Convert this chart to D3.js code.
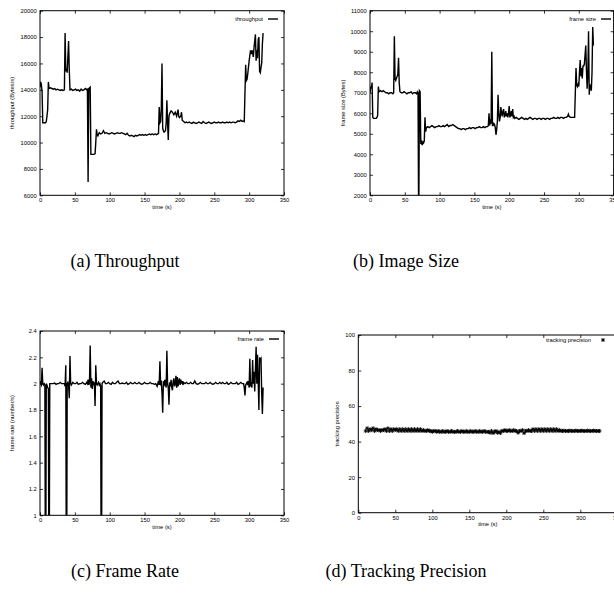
<!DOCTYPE html>
<html>
<head>
<meta charset="utf-8">
<script src="https://cdn.jsdelivr.net/npm/d3@7"></script>
<style>
  body { margin: 0; background: #fff; }
  svg text { font-family: "Liberation Sans", Arial, sans-serif; }
  .cap { font-family: "Liberation Serif", "Times New Roman", serif; font-size: 18px; }
</style>
</head>
<body>
<script>
// (a) throughput, [time (s), bytes/s]
const throughput = [
  [0,14200],[1,14600],[2,14400],[3,13800],[4,11500],[6,11500],[8,11500],[9,11600],[10,12000],[11,12500],
  [12,14600],[13,14100],[15,14150],[17,14100],[19,14050],[21,14100],[23,14000],[25,14050],[27,14000],[29,13950],
  [31,14000],[33,13950],[35,14000],[36,18300],[37,15400],[38,15600],[39,15300],[41,17700],[42,15500],[43,14000],
  [45,14050],[47,13950],[49,14000],[51,14050],[53,13950],[55,14000],[57,13900],[59,14050],[61,13950],[63,14000],
  [65,14100],[67,14000],[68,14100],[69,7000],[70,14100],[72,14200],[73,9100],[75,9100],[77,9100],[79,9150],
  [80,10000],[81,11000],[82,10600],[83,10500],[85,10750],[87,10650],[89,10700],[91,10900],[93,10700],[95,10750],
  [97,10700],[99,10650],[101,10700],[103,10750],[105,10700],[107,10650],[109,10700],[111,10750],[113,10700],[115,10700],
  [117,10750],[119,10700],[121,10650],[123,10600],[125,10700],[127,10550],[129,10500],[131,10550],[133,10500],[135,10450],
  [137,10550],[139,10500],[141,10550],[143,10600],[145,10550],[147,10600],[149,10550],[151,10600],[153,10550],[155,10600],
  [157,10650],[159,10600],[161,10650],[163,10600],[165,10650],[167,10600],[169,10650],[170,10700],[171,12700],[172,11500],
  [173,11600],[174,12600],[175,16000],[176,11100],[177,10900],[178,10800],[180,10900],[181,11500],[182,13200],[183,11500],
  [184,10200],[185,12000],[186,12200],[188,12400],[190,12300],[192,12100],[194,12300],[196,12000],[198,12500],[199,12000],
  [200,11900],[202,12000],[203,12300],[204,11700],[206,11600],[208,11500],[210,11550],[212,11500],[214,11550],[216,11500],
  [218,11450],[220,11550],[222,11500],[224,11450],[226,11500],[228,11550],[230,11500],[232,11450],[234,11600],[236,11500],
  [238,11450],[240,11500],[242,11550],[244,11500],[246,11450],[248,11500],[250,11550],[252,11500],[254,11500],[256,11550],
  [258,11500],[260,11500],[262,11550],[264,11500],[266,11500],[268,11550],[270,11500],[272,11550],[274,11500],[276,11550],
  [278,11550],[280,11500],[282,11550],[284,11650],[286,11600],[288,11700],[290,11600],[292,11650],[293,11600],[295,15900],
  [296,14700],[297,14800],[298,15200],[300,16200],[302,17000],[303,16700],[304,17000],[305,16800],[306,16500],[307,17200],
  [309,18200],[310,16200],[311,17000],[312,16400],[313,17800],[314,18000],[315,15400],[316,15300],[317,15700],[318,16000],
  [319,17500],[320,18300]
];

// (b) frame size, [time (s), bytes]
const frameSize = [
  [0,7000],[1,7300],[2,7200],[3,7500],[4,5800],[5,5750],[7,5750],[9,5750],[10,5800],[11,5900],
  [12,7300],[13,7050],[15,7100],[17,7050],[19,7100],[21,7050],[23,7000],[25,7000],[27,6950],[29,7000],
  [31,7000],[33,6950],[34,7000],[35,9750],[36,7700],[37,7600],[38,7700],[40,7900],[41,8700],[42,7500],
  [43,7050],[45,7000],[47,7000],[49,7050],[51,7000],[53,6950],[55,7000],[57,7000],[59,7050],[61,6950],
  [63,7000],[65,7000],[67,6950],[68,7050],[69,7000],[70,0],[71,7100],[72,7050],[73,4500],[74,4600],
  [75,4450],[76,4600],[77,4550],[78,4650],[79,5800],[80,5100],[81,5300],[83,5350],[85,5300],[87,5350],
  [89,5400],[91,5350],[93,5300],[95,5350],[97,5350],[99,5400],[101,5350],[103,5350],[105,5400],[107,5350],
  [109,5400],[111,5450],[113,5350],[115,5400],[117,5400],[119,5450],[121,5400],[123,5350],[125,5300],[127,5250],
  [129,5250],[131,5200],[133,5250],[135,5250],[137,5200],[139,5250],[141,5250],[143,5300],[145,5250],[147,5300],
  [149,5300],[151,5250],[153,5300],[155,5300],[157,5350],[159,5300],[161,5300],[163,5350],[165,5300],[167,5350],
  [169,5350],[170,5400],[171,6000],[172,5400],[173,5700],[174,5500],[175,9000],[176,5400],[177,5400],[178,5500],
  [179,5450],[180,5300],[181,4950],[182,5200],[183,5600],[184,6900],[185,6000],[186,5600],[187,5800],[188,6300],
  [189,6000],[190,5850],[191,6100],[192,6200],[193,5800],[194,5900],[195,6100],[196,5850],[197,6000],[198,5800],
  [199,6000],[200,6350],[201,5800],[202,5900],[203,6100],[204,5850],[205,6200],[206,5800],[207,5850],[208,5750],
  [210,5800],[212,5750],[214,5700],[216,5750],[218,5800],[220,5750],[222,5700],[224,5750],[226,5700],[228,5750],
  [230,5800],[232,5750],[234,5700],[236,5750],[238,5750],[240,5700],[242,5750],[244,5750],[246,5700],[248,5750],
  [250,5750],[252,5700],[254,5750],[256,5750],[258,5700],[260,5750],[262,5750],[264,5800],[266,5750],[268,5750],
  [270,5800],[272,5750],[274,5800],[276,5800],[278,5750],[280,5800],[282,5800],[284,5850],[285,5950],[286,5850],
  [288,5800],[290,5800],[292,5800],[294,5800],[296,8200],[297,7400],[298,7300],[299,7400],[300,7300],[301,8000],
  [302,8600],[303,7800],[304,8200],[305,7700],[306,8300],[307,8300],[308,8400],[310,9300],[311,8100],[312,7200],
  [313,7900],[314,10000],[315,6900],[316,7400],[317,7300],[318,7100],[319,8000],[320,10200],[321,9300]
];

// (c) frame rate, [time (s), frames/s]
const frameRate = [
  [0,2.02],[1,2.0],[2,1.99],[3,2.12],[4,2.0],[5,1.99],[6,2.0],[7,1.99],[8,0],[9,2.0],
  [10,1.99],[11,1.97],[12,1.96],[13,0],[14,2.0],[15,2.0],[17,2.0],[19,2.0],[21,2.005],[23,1.995],
  [25,2.0],[27,2.0],[29,2.01],[31,2.0],[33,2.0],[35,2.0],[36,1.98],[37,2.14],[38,0],[39,2.0],
  [40,2.01],[41,1.99],[42,1.89],[43,2.21],[44,2.0],[45,1.99],[47,2.01],[49,2.0],[51,2.0],[53,2.01],
  [55,1.995],[57,2.0],[59,2.0],[61,2.01],[63,2.0],[65,1.995],[67,2.01],[68,2.0],[69,2.03],[70,1.99],
  [71,2.01],[72,2.29],[73,1.97],[74,2.04],[75,1.96],[76,2.02],[77,1.99],[78,2.01],[79,1.83],[80,2.14],
  [81,2.0],[82,1.99],[83,2.0],[84,2.01],[85,1.99],[86,2.0],[87,1.98],[88,0],[89,2.0],[90,2.01],
  [92,2.02],[94,2.0],[96,2.0],[98,2.01],[100,2.0],[102,1.995],[104,2.01],[106,2.0],[108,2.0],[110,2.01],
  [112,2.02],[114,2.0],[116,2.0],[118,2.005],[120,2.0],[122,2.0],[124,2.01],[126,1.995],[128,2.0],[130,2.01],
  [132,2.0],[134,2.0],[136,2.01],[138,2.0],[140,2.0],[142,2.01],[144,2.0],[146,1.995],[148,2.0],[150,2.01],
  [152,2.0],[154,2.0],[156,2.0],[158,2.01],[160,2.0],[162,2.0],[164,1.995],[166,2.0],[168,1.98],[170,2.02],
  [171,1.99],[172,2.17],[173,2.0],[174,2.01],[175,1.93],[176,1.78],[177,2.02],[178,1.98],[179,2.03],[180,2.0],
  [181,1.97],[182,2.25],[183,2.0],[184,1.97],[185,1.84],[186,2.01],[187,1.98],[188,2.03],[189,1.97],[190,1.95],
  [191,2.02],[192,2.04],[193,1.98],[194,2.0],[195,2.06],[196,1.97],[197,2.05],[198,1.98],[199,2.02],[200,2.04],
  [201,1.99],[202,2.03],[203,2.0],[204,2.02],[205,1.99],[206,2.01],[208,2.0],[210,2.01],[212,2.0],[214,2.0],
  [216,2.01],[218,2.0],[220,2.0],[222,2.02],[224,2.0],[226,1.995],[228,2.0],[230,2.01],[232,2.0],[234,2.0],
  [236,2.0],[238,2.01],[240,2.0],[242,2.0],[244,2.01],[246,2.0],[248,1.995],[250,2.0],[252,2.01],[254,2.0],
  [256,2.0],[258,2.01],[260,2.0],[262,2.01],[264,2.0],[266,2.0],[268,2.01],[270,1.995],[272,2.0],[274,2.01],
  [276,2.0],[278,2.0],[280,2.0],[282,2.01],[284,1.995],[286,2.0],[288,2.01],[290,2.0],[292,2.0],[293,1.97],
  [294,1.91],[295,1.99],[296,2.0],[297,2.01],[298,1.99],[299,2.02],[300,1.97],[301,2.19],[302,1.99],[303,2.0],
  [304,1.97],[305,2.18],[306,2.0],[307,2.09],[308,1.94],[310,2.28],[311,2.0],[312,2.22],[313,2.02],[314,1.8],
  [315,2.2],[316,2.18],[317,2.19],[318,1.93],[319,1.77],[320,1.97]
];

// (d) tracking precision, one sample every 2 s starting at t = 10 s
const precisionStart = 10, precisionStep = 2;
const precision = [
  46,47.5,46,47,46.5,47.5,46,47,
  46.5,46.5,46,46.5,46.5,
  47,46,47.5,46,47,46,47,46.5,47,46,47,46,47,46,47,46,47,46,47,46,47,46,47,46,47,46,46.5,
  46,46,46.5,46,46,45.5,46,46,
  45.5,46,45.5,45.5,46,45.5,45.5,46,45.5,45.5,46,45.5,45.5,45.5,46,45.5,45.5,46,45.5,45.5,46,45.5,45.5,46,45.5,45.5,46,45.5,45.5,46,45.5,45.5,46,45.5,45.5,
  45.5,45,46,44.8,45.5,46,45,45.5,44.8,46,
  46,46.5,46,46,46.5,46,46,46.5,46,46,45,46,46,46.5,44.8,46,
  46,46.5,46,46,
  47,46,47,46,47,46,47,46,47,46,47,46,47,46,47,46,47,46,46.5,
  46,46,46.2,46,46,46,46.2,46,46,46,46.2,46,46,46,46.2,46,46,46,46.2,46,46,46,46.2,46,46,46,46
];

const timeTicks = [0, 50, 100, 150, 200, 250, 300, 350];
const throughputTicks = [6000, 8000, 10000, 12000, 14000, 16000, 18000, 20000];
const frameSizeTicks = [2000, 3000, 4000, 5000, 6000, 7000, 8000, 9000, 10000, 11000];
const frameRateTicks = [1, 1.2, 1.4, 1.6, 1.8, 2, 2.2, 2.4];
const precisionTicks = [0, 20, 40, 60, 80, 100];

const svg = d3.select('body').append('svg')
  .attr('width', 614)
  .attr('height', 593);

const FS = 5.8; // small gnuplot text
const cross = 'M-2,0H2M0,-2V2M-1.4,-1.4L1.4,1.4M-1.4,1.4L1.4,-1.4';

function panel(o) {
  const x = d3.scaleLinear().domain([0, 350]).range([o.l, o.r]);
  const y = d3.scaleLinear().domain(o.yDomain).range([o.b, o.t]);
  const g = svg.append('g');

  const clipId = 'clip' + o.id;
  g.append('clipPath').attr('id', clipId)
    .append('rect')
    .attr('x', o.l).attr('y', o.t)
    .attr('width', o.r - o.l).attr('height', o.b - o.t);

  const fmt = d3.format('');
  const axes = [
    g.append('g').attr('transform', `translate(0,${o.b})`)
      .call(d3.axisBottom(x).tickValues(timeTicks).tickSize(-3).tickSizeOuter(0).tickPadding(3).tickFormat(fmt)),
    g.append('g').attr('transform', `translate(0,${o.t})`)
      .call(d3.axisTop(x).tickValues(timeTicks).tickSize(-3).tickSizeOuter(0).tickFormat('')),
    g.append('g').attr('transform', `translate(${o.l},0)`)
      .call(d3.axisLeft(y).tickValues(o.yTicks).tickSize(-3).tickSizeOuter(0).tickPadding(3.3).tickFormat(fmt)),
    g.append('g').attr('transform', `translate(${o.r},0)`)
      .call(d3.axisRight(y).tickValues(o.yTicks).tickSize(-3).tickSizeOuter(0).tickFormat(''))
  ];
  axes.forEach(a => {
    a.select('.domain').remove();
    a.selectAll('line').attr('stroke', '#000').attr('stroke-width', 0.8);
    a.selectAll('text').attr('font-size', FS).attr('fill', '#000')
      .attr('font-family', '"Liberation Sans", Arial, sans-serif');
  });

  // frame
  g.append('rect')
    .attr('x', o.l).attr('y', o.t)
    .attr('width', o.r - o.l).attr('height', o.b - o.t)
    .attr('fill', 'none').attr('stroke', '#000').attr('stroke-width', 1);

  // axis titles
  g.append('text')
    .attr('x', (o.l + o.r) / 2).attr('y', o.xlabY)
    .attr('text-anchor', 'middle').attr('dy', '0.35em')
    .attr('font-size', FS).text('time (s)');
  g.append('text')
    .attr('transform', `translate(${o.ylabX},${(o.t + o.b) / 2}) rotate(-90)`)
    .attr('text-anchor', 'middle').attr('dy', '0.35em')
    .attr('font-size', FS).text(o.ylabel);

  // data
  const plot = g.append('g').attr('clip-path', `url(#${clipId})`);
  if (o.kind === 'line') {
    const line = d3.line().x(d => x(d[0])).y(d => y(d[1]));
    plot.append('path').datum(o.data)
      .attr('d', line)
      .attr('fill', 'none').attr('stroke', '#000')
      .attr('stroke-width', 1.4).attr('stroke-linejoin', 'miter');
  } else {
    plot.selectAll('path.pt').data(o.data).enter()
      .append('path').attr('class', 'pt')
      .attr('transform', d => `translate(${x(d[0])},${y(d[1])})`)
      .attr('d', cross)
      .attr('stroke', '#000').attr('stroke-width', 0.9);
  }

  // legend
  g.append('text')
    .attr('x', o.leg.x).attr('y', o.leg.y)
    .attr('text-anchor', 'end').attr('dy', '0.35em')
    .attr('font-size', FS).text(o.leg.text);
  if (o.kind === 'line') {
    g.append('line')
      .attr('x1', o.leg.x + 5).attr('x2', o.leg.x + 15)
      .attr('y1', o.leg.y).attr('y2', o.leg.y)
      .attr('stroke', '#000').attr('stroke-width', 1.4);
  } else {
    g.append('path')
      .attr('transform', `translate(${o.leg.x + 12},${o.leg.y})`)
      .attr('d', cross)
      .attr('stroke', '#000').attr('stroke-width', 0.9);
  }
}

panel({
  id: 'a', l: 40, r: 284, t: 10.7, b: 195.3,
  yDomain: [6000, 20000], yTicks: throughputTicks,
  ylabel: 'throughput (Bytes/s)', ylabX: 11.7, xlabY: 207.3,
  data: throughput, kind: 'line',
  leg: { x: 263, y: 19, text: 'throughput' }
});

panel({
  id: 'b', l: 370, r: 613.6, t: 10.7, b: 195.3,
  yDomain: [2000, 11000], yTicks: frameSizeTicks,
  ylabel: 'frame size (Bytes)', ylabX: 342.7, xlabY: 207.3,
  data: frameSize, kind: 'line',
  leg: { x: 596, y: 19, text: 'frame size' }
});

panel({
  id: 'c', l: 40, r: 284, t: 331, b: 515.3,
  yDomain: [1, 2.4], yTicks: frameRateTicks,
  ylabel: 'frame rate (number/s)', ylabX: 11.7, xlabY: 527.3,
  data: frameRate, kind: 'line',
  leg: { x: 264, y: 339, text: 'frame rate' }
});

panel({
  id: 'd', l: 358.3, r: 617.3, t: 335, b: 512.7,
  yDomain: [0, 100], yTicks: precisionTicks,
  ylabel: 'tracking precision', ylabX: 337, xlabY: 524,
  data: precision.map((v, i) => [precisionStart + i * precisionStep, v]), kind: 'points',
  leg: { x: 591, y: 340, text: 'tracking precision' }
});

// sub-figure captions
const captions = [
  { text: '(a) Throughput', x: 125, y: 267 },
  { text: '(b) Image Size', x: 406, y: 267 },
  { text: '(c) Frame Rate', x: 125, y: 577 },
  { text: '(d) Tracking Precision', x: 406, y: 577 }
];
svg.selectAll('text.cap').data(captions).enter()
  .append('text').attr('class', 'cap')
  .attr('x', d => d.x).attr('y', d => d.y)
  .attr('text-anchor', 'middle')
  .text(d => d.text);
</script>
</body>
</html>
